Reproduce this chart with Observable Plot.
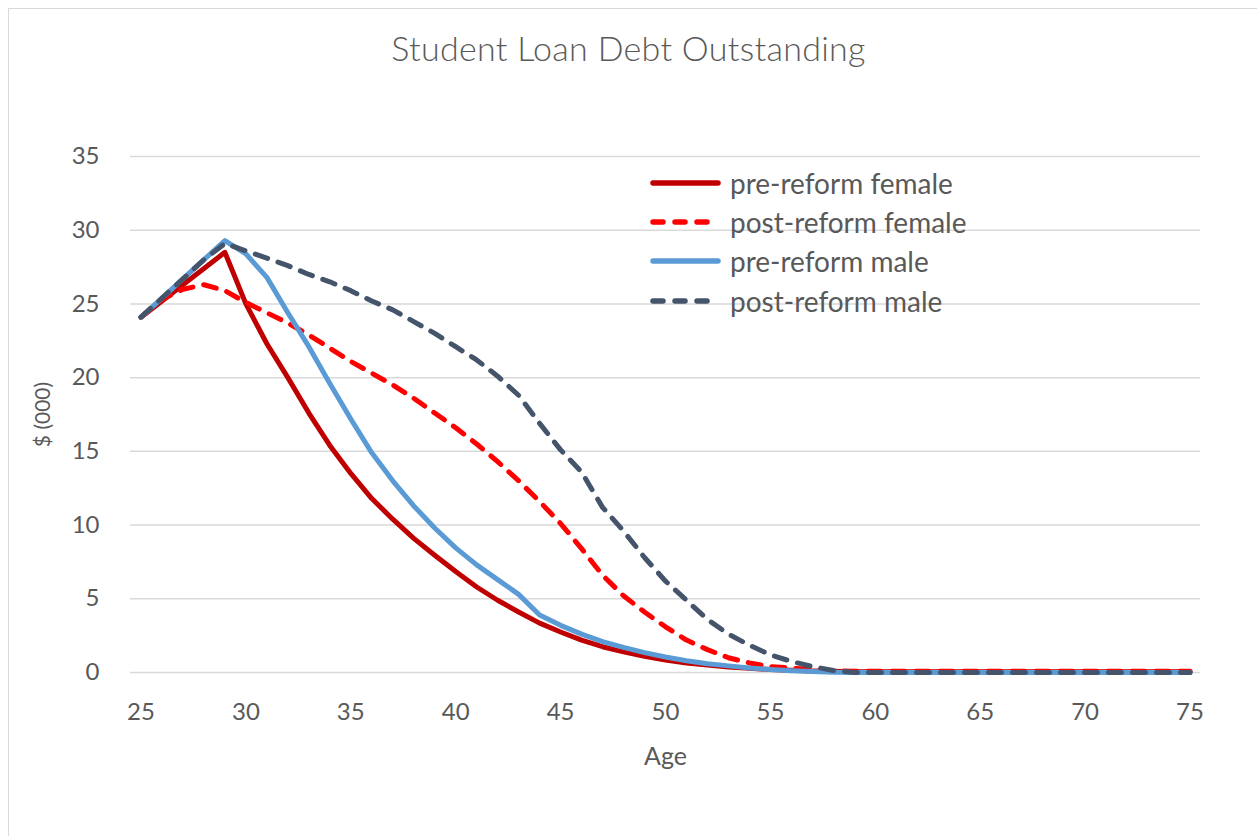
<!DOCTYPE html>
<html>
<head>
<meta charset="utf-8">
<script src="https://cdn.jsdelivr.net/npm/d3@7"></script>
<script src="https://cdn.jsdelivr.net/npm/@observablehq/plot@0.6"></script>
<style>
  html, body { margin: 0; padding: 0; background: #fff; }
  #wrap { position: relative; width: 1257px; height: 836px; overflow: hidden; font-family: Lato, "Open Sans", sans-serif; color: #595959; }
  #border { position: absolute; left: 8px; top: 8px; width: 1260px; height: 840px; border-left: 1.5px solid #D9D9D9; border-top: 1.5px solid #D9D9D9; }
  #chart { position: absolute; left: 0; top: 0; }
  #title { position: absolute; left: 0; width: 1257px; top: 27px; text-align: center; font-size: 34px; font-weight: 300; color: #595959; letter-spacing: 0.3px; }
  #legend { position: absolute; left: 648px; top: 163px; }
  .row { display: flex; align-items: center; height: 39.3px; font-size: 28px; color: #595959; }
  .row svg { margin-right: 6px; }
</style>
</head>
<body>
<div id="wrap">
  <div id="border"></div>
  <div id="chart"></div>
  <div id="title">Student Loan Debt Outstanding</div>
  <div id="legend"></div>
</div>
<script>
const ages = [25,26,27,28,29,30,31,32,33,34,35,36,37,38,39,40,41,42,43,44,45,46,47,48,49,50,51,52,53,54,55,56,57,58,59,60,61,62,63,64,65,66,67,68,69,70,71,72,73,74,75];

const preFemale = [24.1,25.2,26.3,27.4,28.5,25.0,22.3,20.0,17.6,15.4,13.5,11.8,10.4,9.1,7.95,6.85,5.8,4.9,4.1,3.35,2.75,2.2,1.75,1.4,1.1,0.85,0.65,0.5,0.38,0.28,0.2,0.15,0.1,0.08,0.05,0.05,0.05,0.05,0.05,0.05,0.05,0.05,0.05,0.05,0.05,0.05,0.05,0.05,0.05,0.05,0.05];
const postFemale = [24.1,25.3,26.0,26.3,25.9,25.1,24.4,23.7,22.9,22.0,21.1,20.3,19.5,18.6,17.6,16.6,15.5,14.3,13.0,11.6,10.1,8.4,6.6,5.2,4.1,3.1,2.2,1.55,1.0,0.65,0.4,0.3,0.2,0.12,0.08,0.08,0.08,0.08,0.08,0.08,0.08,0.08,0.08,0.08,0.08,0.08,0.08,0.08,0.08,0.08,0.08];
const preMale = [24.1,25.4,26.7,28.0,29.3,28.4,26.8,24.4,22.1,19.6,17.2,14.9,13.0,11.3,9.8,8.45,7.3,6.3,5.3,3.9,3.2,2.6,2.1,1.7,1.35,1.05,0.8,0.6,0.45,0.3,0.2,0.12,0.06,0.02,0,0,0,0,0,0,0,0,0,0,0,0,0,0,0,0,0];
const postMale = [24.1,25.4,26.7,28.0,29.1,28.6,28.1,27.6,27.0,26.5,25.9,25.2,24.6,23.8,23.0,22.1,21.2,20.1,18.8,16.9,15.1,13.6,11.2,9.6,7.8,6.2,4.9,3.6,2.6,1.85,1.2,0.75,0.4,0.14,0,0,0,0,0,0,0,0,0,0,0,0,0,0,0,0,0];

const seriesNames = ["pre-reform female","post-reform female","pre-reform male","post-reform male"];
const seriesValues = [preFemale, postFemale, preMale, postMale];
const seriesColors = ["#C00000","#FF0000","#5B9BD5","#44546A"];
const seriesDashed = [false, true, false, true];

const xTicks = [25,30,35,40,45,50,55,60,65,70,75];
const yTicks = [0,5,10,15,20,25,30,35];

const dash = "13,11";

const lines = seriesNames.map((name, i) =>
  Plot.lineY(ages.map((a, j) => ({age: a, v: seriesValues[i][j]})), {
    x: "age", y: "v",
    stroke: seriesColors[i],
    strokeWidth: 5,
    strokeLinecap: "round",
    strokeLinejoin: "round",
    strokeDasharray: seriesDashed[i] ? dash : null
  })
);

const chart = Plot.plot({
  width: 1257,
  height: 836,
  marginTop: 156,
  marginBottom: 164,
  marginLeft: 130,
  marginRight: 57,
  style: { fontFamily: "Lato, 'Open Sans', sans-serif", color: "#595959", background: "transparent" },
  x: { domain: [24.5, 75.5] },
  y: { domain: [0, 35] },
  marks: [
    Plot.gridY(yTicks, { stroke: "#D9D9D9", strokeOpacity: 1, strokeWidth: 1.5 }),
    Plot.axisY(yTicks, { tickSize: 0, tickPadding: 31, fontSize: 24, fill: "#595959",
      label: "$ (000)", labelAnchor: "center", labelArrow: "none", labelOffset: 95 }),
    Plot.axisX(xTicks, { tickSize: 0, tickPadding: 30, fontSize: 24, fill: "#595959",
      label: "Age", labelAnchor: "center", labelArrow: "none", labelOffset: 92 }),
    ...lines
  ]
});
document.getElementById("chart").appendChild(chart);

d3.select(chart).selectAll("[aria-label='y-axis label'] text, [aria-label='y-axis label']").style("font-size", "21px");
d3.select(chart).selectAll("[aria-label='x-axis label'] text, [aria-label='x-axis label']").style("font-size", "25px");

// legend
const legend = d3.select("#legend");
seriesNames.forEach((name, i) => {
  const row = legend.append("div").attr("class", "row");
  const svg = row.append("svg").attr("width", 76).attr("height", 12);
  svg.append("line")
    .attr("x1", 5).attr("x2", 70).attr("y1", 6).attr("y2", 6)
    .attr("stroke", seriesColors[i]).attr("stroke-width", 5.5)
    .attr("stroke-linecap", "round")
    .attr("stroke-dasharray", seriesDashed[i] ? "10,12" : null);
  row.append("span").text(name);
});
</script>
</body>
</html>
